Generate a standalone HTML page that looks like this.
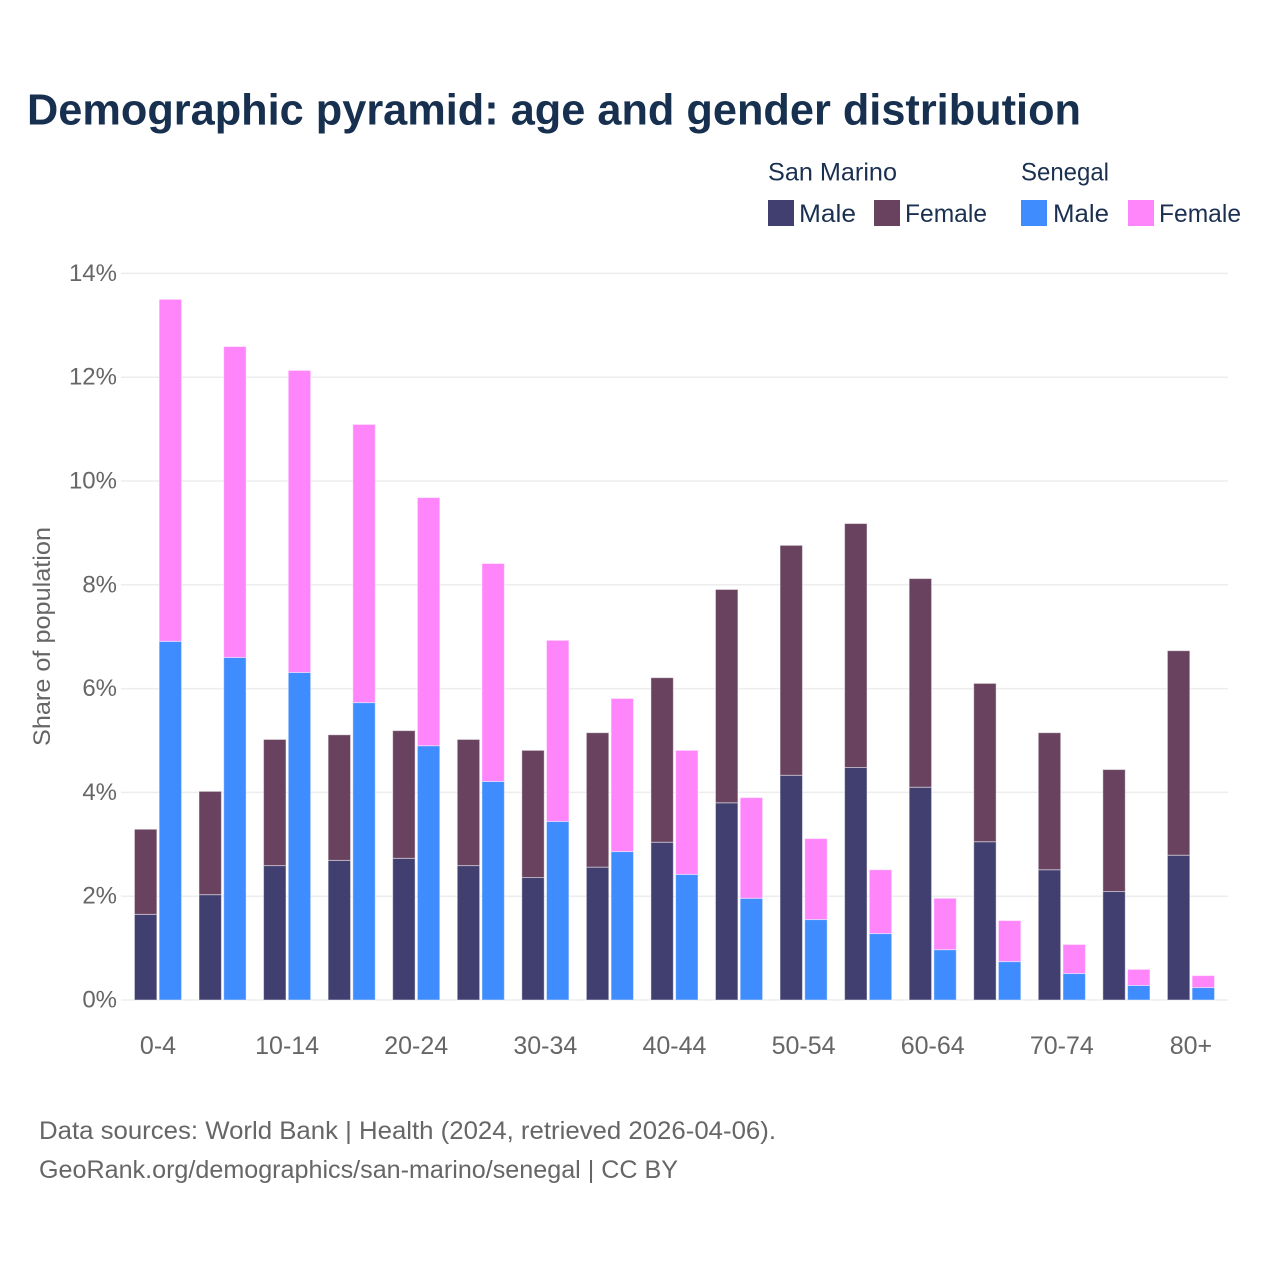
<!DOCTYPE html>
<html lang="en">
<head>
<meta charset="utf-8">
<title>Demographic pyramid: age and gender distribution</title>
<style>
html,body{margin:0;padding:0;background:#fff;}
svg{display:block;font-family:"Liberation Sans",sans-serif;}
.legend-text{font-size:25px;fill:#1b3050;}
.foot{font-size:25px;fill:#666;}
</style>
</head>
<body>
<svg id="chart" width="1280" height="1280" viewBox="0 0 1280 1280" xmlns="http://www.w3.org/2000/svg">
  <rect width="1280" height="1280" fill="#fff"/>
  <text x="27" y="124.5" font-size="44" font-weight="700" fill="#17304f" textLength="1054" lengthAdjust="spacingAndGlyphs">Demographic pyramid: age and gender distribution</text>

  <g>
    <text class="legend-text" x="768" y="180.5" textLength="129" lengthAdjust="spacingAndGlyphs">San Marino</text>
    <text class="legend-text" x="1021" y="180.5" textLength="88" lengthAdjust="spacingAndGlyphs">Senegal</text>
    <rect x="768" y="200" width="26" height="26" fill="#413f70"/>
    <text class="legend-text" x="799" y="222" textLength="57" lengthAdjust="spacingAndGlyphs">Male</text>
    <rect x="874" y="200" width="26" height="26" fill="#69425f"/>
    <text class="legend-text" x="905" y="222" textLength="82" lengthAdjust="spacingAndGlyphs">Female</text>
    <rect x="1021" y="200" width="26" height="26" fill="#3f8cff"/>
    <text class="legend-text" x="1053" y="222" textLength="56" lengthAdjust="spacingAndGlyphs">Male</text>
    <rect x="1128" y="200" width="26" height="26" fill="#ff85fb"/>
    <text class="legend-text" x="1159" y="222" textLength="82" lengthAdjust="spacingAndGlyphs">Female</text>
  </g>

  <g id="grid"></g>
  <g id="bars"></g>
  <g id="yticks"></g>
  <g id="xticks"></g>

  <text transform="translate(50,636.5) rotate(-90)" text-anchor="middle" font-size="24" fill="#666" textLength="219" lengthAdjust="spacingAndGlyphs">Share of population</text>

  <text class="foot" x="39" y="1139" textLength="737" lengthAdjust="spacingAndGlyphs">Data sources: World Bank | Health (2024, retrieved 2026-04-06).</text>
  <text class="foot" x="39" y="1178" textLength="639" lengthAdjust="spacingAndGlyphs">GeoRank.org/demographics/san-marino/senegal | CC BY</text>
</svg>
<script>
const categories = ["0-4","5-9","10-14","15-19","20-24","25-29","30-34","35-39","40-44","45-49","50-54","55-59","60-64","65-69","70-74","75-79","80+"];
const sanMarinoMale = [1.65,2.03,2.59,2.69,2.73,2.59,2.36,2.56,3.04,3.80,4.33,4.48,4.10,3.05,2.51,2.09,2.79];
const sanMarinoFemale = [1.64,1.99,2.43,2.42,2.46,2.43,2.45,2.59,3.17,4.11,4.43,4.70,4.02,3.05,2.64,2.35,3.94];
const senegalMale = [6.91,6.60,6.31,5.73,4.90,4.21,3.44,2.86,2.42,1.96,1.55,1.28,0.97,0.74,0.51,0.28,0.24];
const senegalFemale = [6.59,5.99,5.82,5.36,4.78,4.20,3.49,2.95,2.39,1.94,1.56,1.23,0.99,0.79,0.56,0.31,0.23];
const yTickValues = [0,2,4,6,8,10,12,14];
const yTickLabels = ["0%","2%","4%","6%","8%","10%","12%","14%"];

const NS = "http://www.w3.org/2000/svg";
const Y0 = 1000, PX_PER_UNIT = 51.9;
const X0 = 158, STEP = 64.56, BAR_W = 22.4, BAR_GAP = 2.3;
function yScale(v){ return Y0 - v * PX_PER_UNIT; }
function xCenter(i){ return X0 + STEP * i; }

function make(tag, attrs, parent){
  const el = document.createElementNS(NS, tag);
  for (const k in attrs) el.setAttribute(k, attrs[k]);
  parent.appendChild(el);
  return el;
}

const grid = document.getElementById("grid");
const bars = document.getElementById("bars");
const yticks = document.getElementById("yticks");
const xticks = document.getElementById("xticks");

yTickValues.forEach(function(v, i){
  const line = make("line", {x1:121, x2:1228, y1:yScale(v), y2:yScale(v), stroke:"#ededed", "stroke-width":1.5}, grid);
  
  
  const t = make("text", {x:117, y:yScale(v)+7.5, "text-anchor":"end", "font-size":24, fill:"#666"}, yticks);
  
  
  t.textContent = yTickLabels[i];
});

function drawSegment(x, base, value, color){
  const top = yScale(base + value), bottom = yScale(base);
  const r = make("rect", {x:x, y:top, width:BAR_W, height:bottom-top, fill:color, stroke:"#fff", "stroke-opacity":0.45, "stroke-width":1}, bars);
  return r;
}

categories.forEach(function(cat, i){
  const c = xCenter(i);
  const x1 = c - BAR_GAP/2 - BAR_W;
  const x2 = c + BAR_GAP/2;
  const a = drawSegment(x1, 0, sanMarinoMale[i], "#413f70");
  
  
  const b = drawSegment(x1, sanMarinoMale[i], sanMarinoFemale[i], "#69425f");
  
  
  const d = drawSegment(x2, 0, senegalMale[i], "#3f8cff");
  
  
  const e = drawSegment(x2, senegalMale[i], senegalFemale[i], "#ff85fb");
  
  
  if (i % 2 === 0) {
    const t = make("text", {x:c, y:1054, "text-anchor":"middle", "font-size":25, fill:"#666"}, xticks);
    
    
    t.textContent = cat;
  }
});
</script>
</body>
</html>
